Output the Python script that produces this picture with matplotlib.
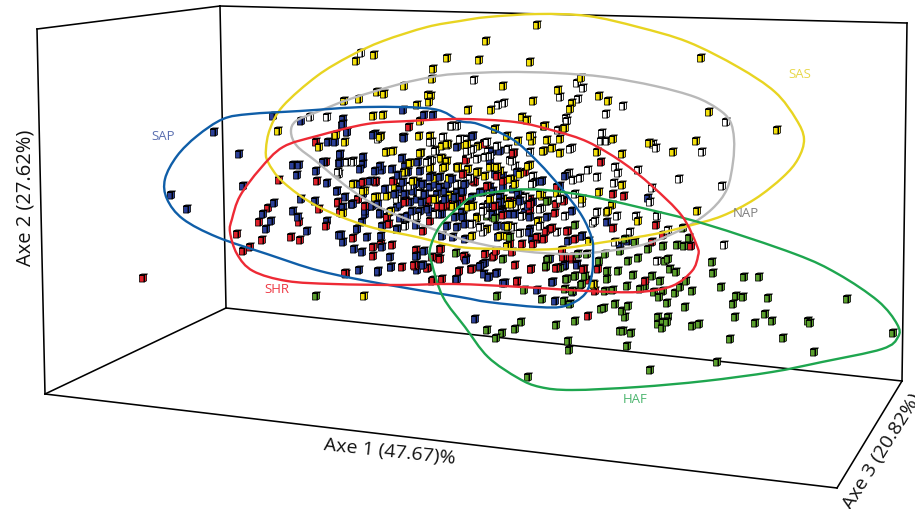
import matplotlib
matplotlib.use("Agg")
import matplotlib.pyplot as plt
import numpy as np
from matplotlib.path import Path
from matplotlib.patches import PathPatch

plt.rcParams['font.family'] = ['Open Sans', 'DejaVu Sans']

sap_pts = [(214,133),(239,155),(171,196),(187,210),(273,117),(301,122),(343,120),(342,126),(347,133),(375,135),(328,143),(340,156),
    (293,166),(299,166),(297,176),(316,172),(323,163),(339,164),(243,187),(327,184),(337,192),(301,200),(315,202),(274,204),(263,215),
    (271,222),(293,212),(298,218),(266,230),(307,232),(327,222),(345,198),(352,205),(357,230),(339,236),(343,243),(367,238),(381,237),
    (403,111),(424,116),(433,116),(359,271),(378,273),(391,268),(390,258),(417,257),(421,266),(417,271),(456,280),(475,320),(555,302),
    (537,291),(503,284),(552,283),(483,265),(488,278),(577,265),(550,260),(466,260),(457,280),(565,267),(573,293),(568,175),(542,182),
    (530,210),(607,223),(572,212),(648,199),(530,230),(498,238),(568,242),(620,247),(628,242),(472,137),(492,153),(462,193),(503,177),
    (480,193),(498,210),(528,202),(463,217),(520,197),(505,227),(343,125),(347,133),(335,143),(373,136),(404,139),(340,155),(363,158),
    (340,164),(363,165),(360,170),(382,171),(402,159),(418,163),(405,167),(457,148),(473,137),(337,192),(352,205),(363,195),(367,208),
    (372,207),(380,215),(385,190),(400,190),(405,195),(413,192),(418,183),(423,185),(430,188),(435,185),(440,188),(445,192),(448,185),
    (457,193),(463,192),(408,173),(415,185),(403,183),(417,200),(422,203),(410,203),(397,208),(430,213),(442,215),(407,217),(380,167),
    (400,205),(432,177),(437,195),(457,205),(472,198),(462,213),(360,185),(370,182),(342,210),(365,215),(500,152),(492,152),(490,163),
    (495,175),(542,182),(535,183),(517,173),(565,177),(560,187),(503,188),(483,193),(490,188),(503,210),(510,215),(488,205),(533,203),
    (525,213),(500,198),(493,192),(513,190),(518,195),
    (343,208),(353,205),(365,212),(372,207),(380,214),(362,223),(357,230),(382,227),(400,219),(397,230),(416,226),(420,212),(428,210),
    (440,215),(455,218),(463,218),(447,227),(457,228),(465,225),(442,237),(453,238),(465,240),(341,236),(354,250),(362,253),(382,248),
    (416,257),(424,252),(423,266),(391,268),(378,272),(466,261),(497,227),(529,233),(532,240),(485,264),(480,267),(484,275),(489,278),
    (497,274),(565,266),(577,266),(553,283),(547,218),(530,218),(515,215),(502,213),(493,215),(520,202),(528,207),(500,203),(582,237),
    (505,284),(375,172),(392,170),(420,172),(398,176),(440,178),(452,180),(465,185),(430,178),(425,195),(445,200),(455,198),(412,212),
    (395,195),(378,205)]

shr_pts = [(409,128),(316,143),(326,163),(317,182),(279,181),(319,210),(338,204),(358,200),(376,183),(394,182),(405,202),(427,207),
    (387,219),(259,223),(268,209),(299,223),(237,235),(291,238),(300,241),(262,241),(250,248),(243,252),(326,227),(353,239),(373,248),
    (392,246),(416,251),(440,250),(423,232),(397,230),(447,207),(143,279),(346,275),(402,268),(373,257),(415,267),(428,269),(438,259),
    (432,282),(442,280),(459,272),(588,317),(595,292),(645,282),(598,270),(584,270),(588,281),(561,268),(546,268),(531,270),(515,266),
    (496,274),(480,268),(471,270),(459,272),(465,259),(493,258),(572,260),(565,259),(517,283),(601,163),(624,197),(613,195),(564,201),
    (556,205),(613,229),(656,226),(663,236),(652,243),(691,247),(550,230),(568,232),(538,240),(466,160),(514,154),(484,144),(475,183),
    (463,175),(525,173),(530,200),(462,200),(492,213),(510,245),(562,251),(466,161),(463,175),(473,182),(375,182),(393,182),(363,183),
    (338,203),(358,200),(405,202),(430,200),(443,205),(438,207),(340,213),(470,206),(448,205),(513,154),(485,145),(503,182),(497,177),
    (557,188),(564,202),(555,214),(520,200),(495,212),(530,210),(510,202),(487,187),
    (381,245),(441,250),(440,260),(432,258),(464,257),(414,266),(427,269),(345,274),(433,281),(387,218),(389,225),(365,207),(405,203),
    (443,207),(430,222),(485,255),(494,257),(496,252),(531,270),(472,270),(522,245),(512,253),(546,232),(552,229),(567,232),(537,238),
    (544,240),(533,245),(562,252),(563,258),(572,258),(556,269),(517,282),(583,270),(575,240),(530,205),(503,216),(495,207)]

sas_pts = [(356,62),(374,56),(447,59),(433,70),(432,80),(404,87),(377,93),(384,95),(428,96),(431,97),(429,103),(344,102),(359,100),
    (417,106),(373,117),(383,116),(420,122),(278,132),(335,136),(345,143),(319,148),(381,137),(419,137),(430,137),(421,154),(387,153),
    (442,147),(448,146),(442,160),(409,164),(430,168),(443,169),(405,173),(457,168),(353,185),(365,192),(377,198),(387,197),(412,191),
    (395,188),(342,214),(435,200),(452,207),(390,213),(364,297),(594,286),(537,26),(486,42),(479,61),(530,63),(701,59),(581,79),(503,87),
    (558,91),(599,97),(533,102),(608,102),(572,104),(570,110),(468,111),(491,111),(709,113),(777,131),(522,118),(527,121),(564,129),
    (544,127),(495,130),(507,137),(518,142),(547,141),(560,140),(613,140),(696,142),(649,144),(673,153),(622,155),(597,153),(544,152),
    (552,149),(560,154),(532,142),(478,147),(465,146),(530,166),(500,172),(485,177),(478,173),(468,170),(458,169),(513,180),(622,186),
    (599,193),(697,212),(607,213),(638,222),(557,194),(538,222),(542,197),(503,200),(512,203),(477,218),(487,230),(508,227),(582,200),
    (612,206),(336,136),(380,138),(386,153),(393,152),(420,154),(410,164),(404,173),(441,159),(447,162),(458,168),(477,173),(430,169),
    (445,168),(435,179),(449,179),(363,192),(375,198),(413,182),(435,200),(450,196),(453,207),(468,208),(447,145),(467,145),(495,130),
    (530,137),(545,127),(565,129),(543,152),(528,167),(520,175),(510,180),(515,185),(540,195),(509,205),(490,200),(608,212),(497,168),
    (490,168),(343,214),(391,212),(477,219),(472,237),(500,237),(507,237),(508,227),(538,222),(512,205),(473,207),(589,242),(593,285),
    (507,247)]

nap_pts = [(361,54),(327,118),(310,118),(451,127),(457,127),(403,138),(378,140),(443,138),(432,143),(436,151),(432,162),(353,162),
    (339,175),(420,187),(457,192),(405,226),(657,262),(474,81),(577,84),(583,89),(560,98),(578,100),(504,104),(498,106),(623,107),(606,115),
    (566,119),(726,123),(602,134),(601,142),(607,142),(653,145),(656,149),(702,153),(572,149),(530,153),(558,131),(532,137),(467,140),
    (488,152),(508,150),(470,154),(510,161),(477,160),(615,168),(618,174),(638,171),(679,180),(588,171),(597,178),(569,174),(580,179),
    (573,181),(533,177),(722,187),(652,189),(614,184),(650,203),(582,204),(575,195),(597,213),(617,217),(565,217),(636,217),(657,217),
    (668,231),(724,246),(593,224),(557,233),(630,233),(615,243),(522,217),(542,209),(488,207),(515,167),(470,180),(353,163),(347,163),
    (338,173),(430,143),(435,152),(470,179),(470,155),(473,150),(457,185),(420,194),(397,200),(410,187),(452,127),(467,152),(430,161),
    (427,163),(460,140),(417,217),(567,122),(512,162),(497,147),(490,157),(487,143),(485,158),(570,150),(525,198),(517,207),(483,208),
    (500,212),(488,215),(540,210),(560,200),(532,185),(405,227),(435,215),(520,234),(513,228),(483,233),(522,217),(483,212),(472,225),
    (480,228),(540,227),(595,222)]

haf_pts = [(316,297),(503,260),(547,261),(557,269),(566,280),(575,277),(581,286),(628,262),(638,259),(618,272),(633,276),(607,272),
    (607,280),(599,262),(665,262),(668,260),(670,270),(676,273),(712,263),(713,274),(744,278),(759,278),(652,277),(660,282),(645,287),
    (627,287),(613,291),(605,292),(640,290),(654,293),(663,292),(659,298),(675,294),(680,288),(686,282),(692,292),(667,304),(685,308),
    (721,288),(736,297),(743,298),(733,305),(768,299),(847,300),(765,315),(735,318),(755,324),(772,322),(808,322),(810,324),(893,334),
    (783,339),(730,340),(814,353),(717,363),(650,371),(528,378),(568,342),(569,351),(627,347),(631,334),(620,332),(623,332),(658,318),
    (668,318),(658,325),(663,323),(662,329),(667,323),(692,327),(699,325),(625,318),(622,312),(628,307),(615,305),(601,310),(604,309),
    (575,322),(556,326),(521,323),(515,330),(502,334),(496,339),(487,331),(497,297),(542,300),(564,302),(570,305),(524,291),(572,292),
    (565,290),(683,229),(689,239),(663,247),(677,246),(684,247),(575,226),(582,237),(635,243),(625,240),(493,218),(548,202),(508,228),
    (487,217),(456,254),(548,260),(546,267),(560,269),(575,277),(567,280),(582,285),(585,277),(547,202),(495,219),(510,238),(578,255),
    (587,255),(605,255),(620,252),(648,250)]

sap_curve = [(460,122),(433,110),(367,108),(300,112),(250,115),(223,120),(197,137),(177,157),(165,180),(167,200),(183,220),(217,238),
    (267,255),(320,272),(383,285),(460,298),(488,303),(538,308),(565,307),(585,295),(592,275),(593,255),(592,240),(582,217),(562,190),
    (538,163),(512,140),(478,125)]
shr_curve = [(460,120),(410,122),(367,125),(317,137),(283,148),(260,170),(240,197),(232,220),(230,233),(237,255),(253,272),(287,282),
    (333,285),(400,286),(455,285),(522,288),(588,292),(638,293),(672,287),(692,272),(698,257),(697,247),(682,217),(652,187),(622,163),
    (588,143),(555,132),(515,123)]
sas_curve = [(460,22),(488,18),(538,15),(588,17),(638,28),(688,43),(738,68),(775,93),(796,120),(804,140),(798,160),(783,178),(755,200),
    (722,217),(688,227),(655,235),(605,243),(555,250),(505,250),(460,248),(417,238),(367,227),(317,207),(283,183),(268,163),(266,150),
    (270,130),(283,107),(317,77),(350,57),(383,42),(427,28)]
nap_curve = [(455,75),(505,73),(555,74),(605,78),(655,87),(695,98),(718,110),(730,122),(734,140),(733,163),(727,190),(712,210),(688,227),
    (655,242),(622,250),(572,255),(522,252),(472,243),(433,230),(383,210),(350,190),(317,163),(297,147),(291,133),(296,122),(317,113),
    (350,100),(400,85),(432,78)]
haf_curve = [(460,207),(475,197),(512,191),(545,191),(588,197),(638,208),(705,225),(795,255),(838,275),(878,302),(897,325),(898,338),
    (882,350),(822,363),(772,373),(705,382),(638,388),(572,391),(540,388),(518,379),(488,358),(465,328),(443,298),(432,265),(430,250),
    (440,227)]

box_lines = [((37,30),(220,7)),((37,30),(45,395)),((220,7),(226,309)),((220,7),(907,24)),((907,24),(902,382)),((226,309),(902,382)),
    ((45,395),(226,309)),((45,395),(837,489)),((837,489),(902,382))]

groups = [('SAP', sap_pts, '#2b3f98', sap_curve, '#0f5ea8', '#5a6fb0', (163,137)),
          ('SHR', shr_pts, '#e0202a', shr_curve, '#ee2a35', '#ee3a45', (277,290)),
          ('SAS', sas_pts, '#f5e10a', sas_curve, '#e8d421', '#e8d84a', (800,74)),
          ('NAP', nap_pts, '#ffffff', nap_curve, '#b9b9b9', '#808080', (746,214)),
          ('HAF', haf_pts, '#5aa02c', haf_curve, '#1ea64f', '#4cb56e', (635,400))]


def cube_marker():
    # front, side and top faces of a small box
    faces = [[(-3,-3.5),(1,-3.5),(1,2.5),(-3,2.5)],
             [(1,-3.5),(3,-2.5),(3,3.2),(1,2.5)],
             [(-3,2.5),(-1,3.5),(4,3.5),(1,2.5)]]
    verts, codes = [], []
    for f in faces:
        verts += f + [f[0]]
        codes += [Path.MOVETO] + [Path.LINETO] * (len(f) - 1) + [Path.CLOSEPOLY]
    return Path(verts, codes)


def smooth_closed(pts):
    # closed catmull-rom through the contour points, as bezier segments
    p = np.array(pts, dtype=float)
    n = len(p)
    verts = [p[0]]
    codes = [Path.MOVETO]
    for i in range(n):
        p0, p1, p2, p3 = p[i - 1], p[i], p[(i + 1) % n], p[(i + 2) % n]
        verts += [p1 + (p2 - p0) / 6, p2 - (p3 - p1) / 6, p2]
        codes += [Path.CURVE4] * 3
    return Path(verts, codes)


fig, ax = plt.subplots(figsize=(9.15, 5.1), dpi=100)
fig.subplots_adjust(0, 0, 1, 1)
ax.set_xlim(0, 915)
ax.set_ylim(510, 0)
ax.axis('off')

for a, b in box_lines:
    ax.plot([a[0], b[0]], [a[1], b[1]], color='black', lw=1.15, solid_capstyle='projecting', zorder=1)

# points of all groups are interleaved so no colour sits fully on top
xs, ys, cs, rank = [], [], [], []
for name, pts, col, *_ in groups:
    for i, (x, y) in enumerate(pts):
        xs.append(x)
        ys.append(y)
        cs.append(col)
        rank.append(i / len(pts))
order = np.argsort(rank, kind='stable')
ax.scatter(np.array(xs)[order], np.array(ys)[order], c=[cs[i] for i in order], marker=cube_marker(), s=44,
           edgecolors='black', linewidths=0.55, zorder=2)

for name in ['NAP', 'SAS', 'SAP', 'HAF', 'SHR']:
    g = [k for k in groups if k[0] == name][0]
    ax.add_patch(PathPatch(smooth_closed(g[3]), fill=False, edgecolor=g[4], lw=1.7, zorder=3))
    ax.text(g[6][0], g[6][1], name, color=g[5], fontsize=9.5, ha='center', va='center', zorder=4)

ax.text(26, 198, 'Axe 2 (27.62%)', rotation=90, fontsize=14.5, ha='center', va='center', color='#111111')
ax.text(390, 452, 'Axe 1 (47.67)%', rotation=-6, rotation_mode='anchor', fontsize=14, ha='center', va='center', color='#111111')
ax.text(882, 452, 'Axe 3 (20.82%)', rotation=58, rotation_mode='anchor', fontsize=14, ha='center', va='center', color='#111111')

fig.savefig('out.png', dpi=100)
